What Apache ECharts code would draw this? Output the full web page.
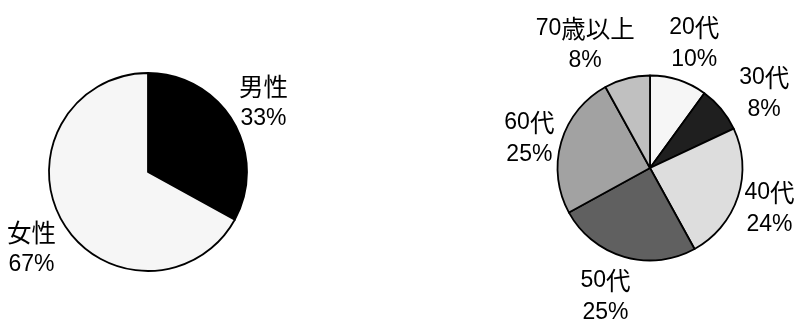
<!DOCTYPE html>
<html>
<head>
<meta charset="utf-8">
<script src="https://cdn.jsdelivr.net/npm/echarts@6/dist/echarts.min.js"></script>
<style>
html,body{margin:0;padding:0;background:#fff;}
#c{width:798px;height:320px;}
</style>
</head>
<body>
<div id="c"></div>
<script>
// ---- data ----
const genderCategories = ['男性', '女性'];
const genderValues = [33, 67];
const ageCategories = ['20代', '30代', '40代', '50代', '60代', '70歳以上'];
const ageValues = [10, 8, 24, 25, 25, 8];

// ---- styles / layout ----
const genderColors = ['#000000', '#f6f6f6'];
const ageColors = ['#f6f6f6', '#1f1f1f', '#dddddd', '#606060', '#a2a2a2', '#c0c0c0'];
const pies = [
  {center: [148, 172], radius: 99, values: genderValues, nudge: [[4, 0], [-5, 7]]},
  {center: [650, 168], radius: 92.5, values: ageValues,
   nudge: [[6, 0], [19, 9], [2, 0], [-10, 3], [-2, 7], [-28, 3]]}
];
const FONT = '"Liberation Sans", Arial, "Noto Sans CJK JP", sans-serif';

function mkData(cats, vals, colors) {
  return cats.map((c, i) => ({name: c, value: vals[i], itemStyle: {color: colors[i]}}));
}

function richText(str) {
  // wrap CJK runs and latin runs in separate rich tokens
  return str.replace(/([\u3000-\u9fff]+)|([^\u3000-\u9fff]+)/g, (m, k, n) => k ? '{k|' + k + '}' : '{n|' + n + '}');
}

function labelLayout(params) {
  const p = pies[params.seriesIndex];
  const vals = p.values;
  const total = vals.reduce((a, b) => a + b, 0);
  let cum = 0;
  for (let i = 0; i < params.dataIndex; i++) cum += vals[i];
  const th = 2 * Math.PI * (cum + vals[params.dataIndex] / 2) / total;
  const s = Math.sin(th), c = -Math.cos(th);
  const gap = 6;
  const w = params.labelRect.width, h = params.labelRect.height;
  const nx = p.nudge[params.dataIndex][0], ny = p.nudge[params.dataIndex][1];
  return {
    x: p.center[0] + (p.radius + gap) * s + s * w / 2 + nx,
    y: p.center[1] + (p.radius + gap) * c + c * h / 2 + ny,
    align: 'center',
    verticalAlign: 'middle'
  };
}

function mkSeries(i, cats, vals, colors) {
  return {
    type: 'pie',
    center: pies[i].center,
    radius: pies[i].radius,
    startAngle: 90,
    clockwise: true,
    animation: false,
    silent: true,
    avoidLabelOverlap: false,
    data: mkData(cats, vals, colors),
    itemStyle: {borderColor: '#000', borderWidth: 1.8},
    label: {
      show: true,
      position: 'inside',
      formatter: (p) => richText(p.name) + '\n' + richText(p.value + '%'),
      fontFamily: FONT,
      fontSize: 23,
      lineHeight: 32,
      color: '#000',
      overflow: 'none',
      rich: {
        n: {fontFamily: FONT, fontSize: 23, lineHeight: 32, color: '#000'},
        k: {fontFamily: '"Noto Sans CJK JP", sans-serif', fontSize: 24.5, lineHeight: 32, color: '#000'}
      }
    },
    labelLine: {show: false},
    labelLayout: labelLayout,
    emphasis: {disabled: true}
  };
}

const chart = echarts.init(document.getElementById('c'), null, {renderer: 'canvas'});
chart.setOption({
  backgroundColor: '#fff',
  series: [
    mkSeries(0, genderCategories, genderValues, genderColors),
    mkSeries(1, ageCategories, ageValues, ageColors)
  ]
});
</script>
</body>
</html>
